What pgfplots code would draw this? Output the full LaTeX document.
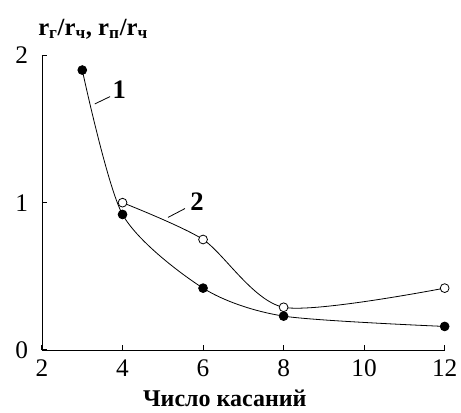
\documentclass[border=0pt]{standalone}
\usepackage{pgfplots}
\pgfplotsset{compat=1.18}
\usepackage{fontspec}
\setmainfont{Liberation Serif}
\begin{document}
\begin{tikzpicture}
% frame of the whole picture (1px = 0.75pt)
\path[use as bounding box] (-31.5pt,-46.5pt) rectangle (314.25pt,262.5pt);
\begin{axis}[
    at={(0,0)}, anchor=south west,
    scale only axis,
    width=302pt, height=221pt,
    xmin=2, xmax=12, ymin=0, ymax=2,
    axis x line*=bottom, axis y line*=left,
    axis line style={-, line width=0.7pt},
    xtick={2,4,6,8,10,12}, ytick={0,1,2},
    tick align=inside,
    major tick length=3.8pt,
    major tick style={draw=black, line width=0.8pt},
    ticklabel style={font=\fontsize{19}{19}\selectfont},
    xticklabel style={yshift=-4pt},
    yticklabel style={xshift=-7pt},
    /pgf/number format/assume math mode=true,
    clip=false,
]
\addplot[black, line width=0.6pt, smooth, tension=0.45, mark=*, mark size=3.3pt, mark options={fill=black}]
  coordinates {(3,1.9) (4,0.92) (6,0.42) (8,0.23) (12,0.16)};
\addplot[black, line width=0.6pt, smooth, tension=0.45, mark=*, mark size=3.3pt, mark options={fill=white}]
  coordinates {(4,1.0) (6,0.75) (8,0.29) (12,0.42)};
\draw[line width=0.6pt] (axis cs:3.31,1.67) -- (axis cs:3.69,1.72);
\node[font=\fontsize{20}{20}\selectfont\bfseries, inner sep=0pt] at (axis cs:3.92,1.77) {1};
\draw[line width=0.6pt] (axis cs:5.13,0.90) -- (axis cs:5.55,0.96);
\node[font=\fontsize{20}{20}\selectfont\bfseries, inner sep=0pt] at (axis cs:5.85,1.01) {2};
\node[anchor=base west, font=\fontsize{18.5}{18.5}\selectfont\bfseries, inner sep=0pt]
  at ([xshift=-3pt, yshift=15pt]rel axis cs:0,1)
  {r\textsubscript{г}/r\textsubscript{ч}, r\textsubscript{п}/r\textsubscript{ч}};
\node[anchor=base, font=\fontsize{18}{18}\selectfont\bfseries, inner sep=0pt]
  at ([yshift=-42pt]axis cs:6.54,0) {Число касаний};
\end{axis}
\end{tikzpicture}
\end{document}
